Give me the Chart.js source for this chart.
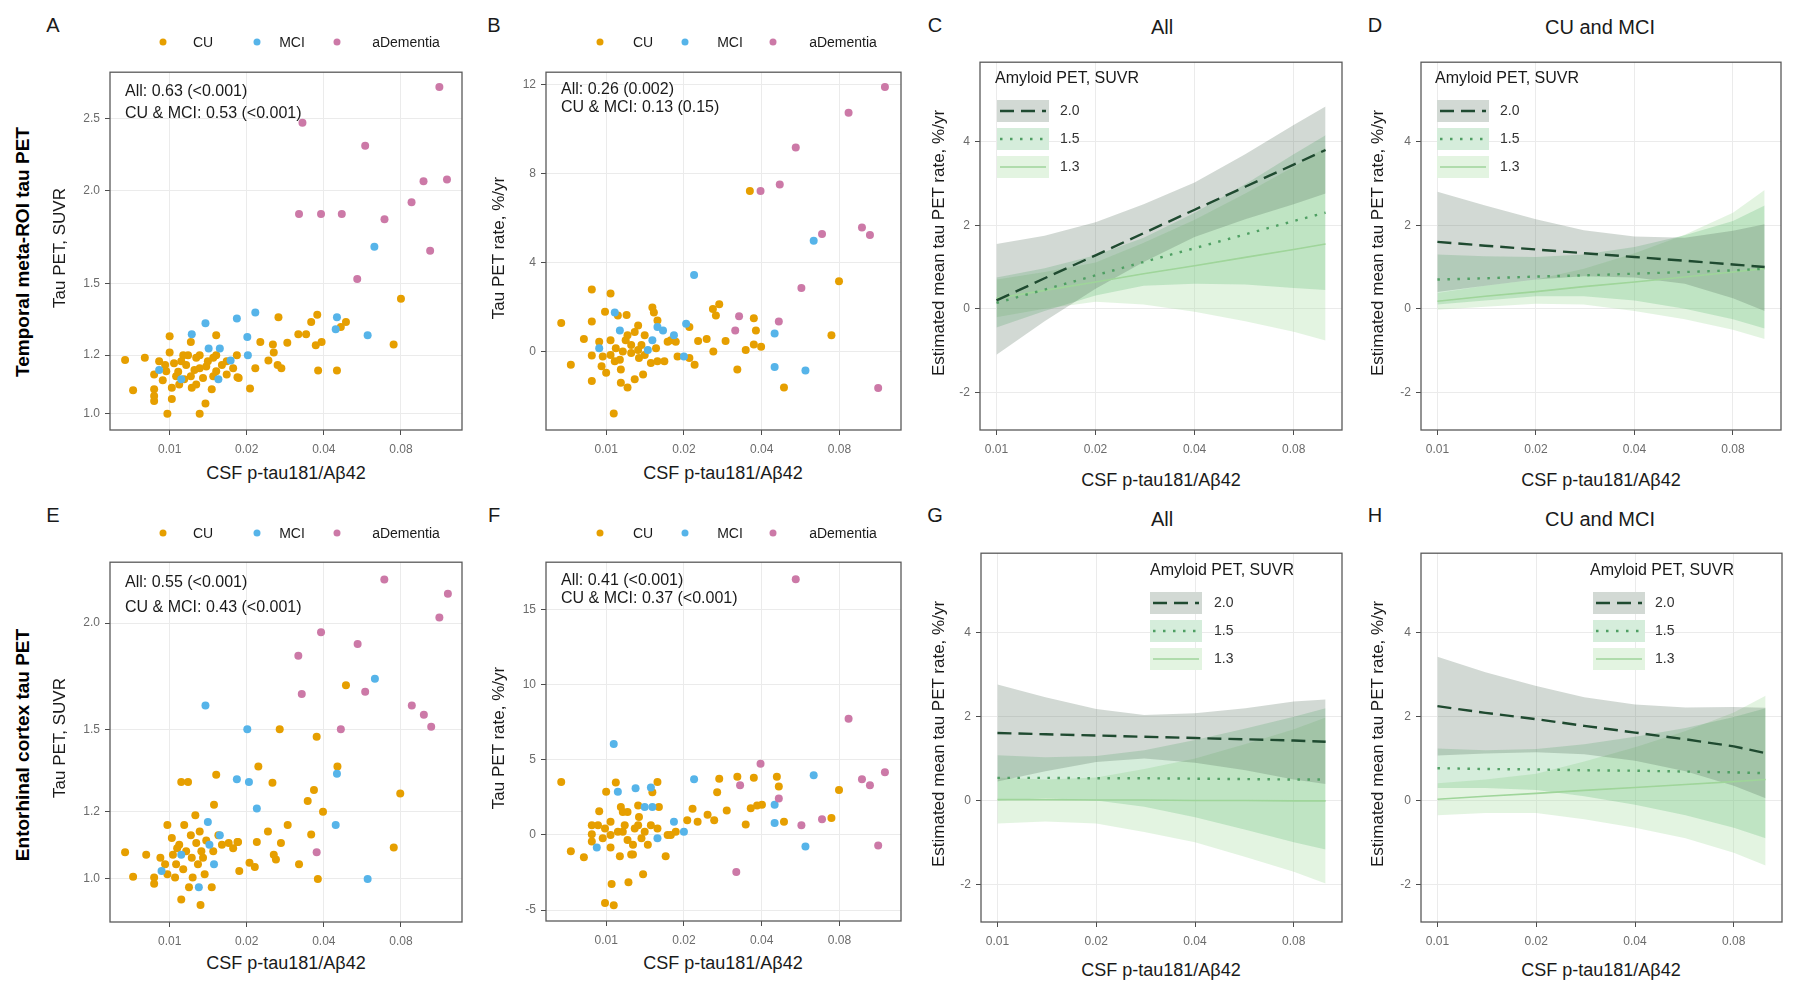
<!DOCTYPE html>
<html>
<head>
<meta charset="utf-8">
<script src="https://cdn.jsdelivr.net/npm/chart.js@4"></script>
<style>
  body { margin: 0; width: 1800px; height: 989px; position: relative; overflow: hidden; background: #fff;
         font-family: 'Liberation Sans', Arial, Helvetica, sans-serif; color: #1a1a1a; }
  canvas { position: absolute; }
  .t { position: absolute; white-space: nowrap; line-height: 1; }
  .dot { position: absolute; width: 7px; height: 7px; border-radius: 50%; transform: translate(-50%, -50%); }
</style>
</head>
<body>
<script>
// Tick values and labels
const scatterXTicks = [0.01, 0.02, 0.04, 0.08];
const scatterXLabels = ['0.01', '0.02', '0.04', '0.08'];
const suvrTicksA = [1.0, 1.2, 1.5, 2.0, 2.5];
const suvrLabelsA = ['1.0', '1.2', '1.5', '2.0', '2.5'];
const suvrTicksE = [1.0, 1.2, 1.5, 2.0];
const suvrLabelsE = ['1.0', '1.2', '1.5', '2.0'];
const rateTicksB = [0, 4, 8, 12];
const rateTicksF = [-5, 0, 5, 10, 15];
const bandYTicks = [-2, 0, 2, 4];

// Panel A: temporal meta-ROI SUVR  [p-tau181/Aβ42, SUVR]
const aCU = [[0.08,1.43],[0.0749,1.24],[0.0266,1.35],[0.0377,1.36],[0.0357,1.33],[0.0488,1.33],[0.0466,1.31],[0.0318,1.28],[0.0341,1.28],[0.0288,1.247],[0.0372,1.237],[0.0392,1.25],[0.0226,1.25],[0.0253,1.24],[0.0255,1.21],[0.0243,1.18],[0.0264,1.164],[0.0273,1.152],[0.0216,1.152],[0.038,1.144],[0.045,1.144],[0.0206,1.082],[0.0184,1.12],[0.0183,1.2],[0.0152,1.276],[0.0121,1.25],[0.01,1.273],[0.0067,1.182],[0.0072,1.076],[0.008,1.19],[0.0087,1.13],[0.0087,1.057],[0.0087,1.079],[0.0087,1.041],[0.0091,1.177],[0.0094,1.11],[0.0098,1.0],[0.0102,1.047],[0.01,1.21],[0.0104,1.17],[0.0108,1.14],[0.0113,1.2],[0.0116,1.164],[0.0121,1.124],[0.0122,1.084],[0.0127,1.19],[0.0131,1.152],[0.0131,1.0],[0.0135,1.118],[0.0138,1.033],[0.0141,1.177],[0.0146,1.079],[0.0152,1.141],[0.016,1.164],[0.0167,1.13],[0.0177,1.152],[0.0186,1.118],[0.0152,1.2],[0.0109,1.095],[0.0097,1.141],[0.0114,1.113],[0.0106,1.124],[0.0125,1.146],[0.0139,1.158],[0.0148,1.124],[0.0102,1.084],[0.0111,1.177],[0.0118,1.2],[0.0131,1.2],[0.0096,1.164],[0.0127,1.095],[0.0167,1.177],[0.0148,1.19]];
const aMCI = [[0.063,1.68],[0.0216,1.37],[0.0183,1.345],[0.0138,1.325],[0.045,1.35],[0.0445,1.30],[0.0593,1.276],[0.0201,1.27],[0.0122,1.28],[0.0142,1.225],[0.0202,1.2],[0.0157,1.225],[0.0091,1.146],[0.0111,1.113],[0.0155,1.113],[0.0173,1.18]];
const aAD = [[0.113,2.76],[0.033,2.47],[0.058,2.30],[0.098,2.06],[0.121,2.07],[0.088,1.93],[0.032,1.86],[0.039,1.86],[0.047,1.86],[0.069,1.83],[0.104,1.66],[0.054,1.52]];

// Panel B: temporal meta-ROI rate  [p-tau181/Aβ42, %/yr]
const bCU = [[0.036,7.22],[0.0797,3.16],[0.0745,0.73],[0.0274,2.13],[0.0259,1.91],[0.0266,1.62],[0.0373,1.5],[0.038,0.95],[0.029,0.47],[0.0245,0.56],[0.0227,0.47],[0.026,0.0],[0.0347,0.07],[0.0373,0.32],[0.0398,0.22],[0.0322,-0.81],[0.0488,-1.62],[0.022,-0.59],[0.021,-0.29],[0.0189,-0.22],[0.021,1.1],[0.0178,0.51],[0.0173,0.44],[0.0067,1.29],[0.0073,-0.59],[0.0082,0.56],[0.0088,2.79],[0.0088,1.35],[0.0088,-1.32],[0.0088,-0.18],[0.0094,0.44],[0.0096,-0.66],[0.01,-0.95],[0.0099,1.79],[0.0104,2.61],[0.0107,-2.79],[0.0104,0.51],[0.0104,-0.15],[0.0109,0.15],[0.0113,-0.37],[0.0111,1.62],[0.0114,-0.81],[0.0114,-1.4],[0.012,1.64],[0.0121,0.73],[0.0121,-1.62],[0.0125,0.29],[0.0125,-0.07],[0.0129,-1.25],[0.0129,0.88],[0.0133,1.17],[0.0134,-0.29],[0.0139,-1.03],[0.0137,0.29],[0.0141,0.73],[0.0151,1.98],[0.0153,1.76],[0.0158,1.4],[0.0158,-0.44],[0.0149,-0.51],[0.0168,-0.44],[0.0156,0.15],[0.0119,0.51],[0.0116,0.0],[0.0133,0.07],[0.0097,-0.22],[0.0186,0.44],[0.0141,-0.15],[0.0108,-0.44]];
const bMCI = [[0.0219,3.45],[0.0636,4.99],[0.0449,0.81],[0.0449,-0.7],[0.0591,-0.85],[0.0108,1.76],[0.0113,0.95],[0.0158,1.1],[0.0166,0.95],[0.0145,0.07],[0.0151,0.51],[0.0204,1.25],[0.0094,0.15],[0.0183,0.73],[0.02,-0.22]];
const bAD = [[0.12,11.9],[0.0868,10.75],[0.0542,9.18],[0.047,7.52],[0.0396,7.22],[0.0685,5.29],[0.0978,5.58],[0.105,5.24],[0.057,2.86],[0.0327,1.59],[0.0316,0.95],[0.0466,1.35],[0.113,-1.64]];

// Panel E: entorhinal SUVR
const eCU = [[0.0488,1.69],[0.0269,1.5],[0.0375,1.47],[0.0222,1.356],[0.0452,1.356],[0.0152,1.326],[0.0111,1.3],[0.0118,1.3],[0.0252,1.298],[0.0366,1.272],[0.0795,1.26],[0.0346,1.235],[0.0149,1.223],[0.0397,1.2],[0.0126,1.188],[0.0289,1.157],[0.0357,1.128],[0.0242,1.137],[0.0219,1.105],[0.0272,1.102],[0.0185,1.105],[0.075,1.089],[0.0255,1.068],[0.026,1.054],[0.032,1.041],[0.0187,1.022],[0.0205,1.045],[0.0215,1.033],[0.0379,1.0],[0.0067,1.075],[0.0072,1.006],[0.0081,1.068],[0.0087,1.004],[0.0087,0.987],[0.0092,1.059],[0.0098,1.157],[0.0098,1.013],[0.0102,1.117],[0.0103,1.068],[0.0106,1.041],[0.0109,1.097],[0.0111,0.946],[0.0113,1.027],[0.0116,1.078],[0.0121,1.126],[0.0122,1.059],[0.0123,1.004],[0.0127,1.102],[0.0129,1.041],[0.0132,0.932],[0.0133,1.078],[0.0137,1.013],[0.0139,1.11],[0.0146,0.978],[0.0148,1.078],[0.0155,1.126],[0.016,1.097],[0.017,1.102],[0.0177,1.087],[0.0184,1.105],[0.0114,1.157],[0.0107,1.087],[0.0131,1.137],[0.0105,1.004],[0.0119,0.978],[0.0096,1.041],[0.0135,1.059]];
const eMCI = [[0.0138,1.6],[0.0201,1.5],[0.0633,1.72],[0.0183,1.31],[0.0204,1.3],[0.045,1.33],[0.0219,1.21],[0.0445,1.157],[0.0593,1.0],[0.0141,1.167],[0.013,0.978],[0.0093,1.022],[0.0111,1.068],[0.0143,1.097],[0.0149,1.041],[0.0157,1.126]];
const eAD = [[0.0689,2.25],[0.122,2.165],[0.113,2.03],[0.039,1.95],[0.0542,1.89],[0.0318,1.83],[0.0328,1.65],[0.058,1.66],[0.0882,1.6],[0.0983,1.56],[0.105,1.51],[0.0466,1.5],[0.0375,1.075]];

// Panel F: entorhinal rate
const fCU = [[0.0067,3.52],[0.0073,-1.09],[0.0082,-1.48],[0.0088,0.65],[0.0088,0.04],[0.0088,-0.43],[0.0094,1.57],[0.01,2.87],[0.0099,-4.52],[0.0107,-4.67],[0.0105,-3.26],[0.0109,3.48],[0.0104,0.87],[0.0104,0.0],[0.0104,-0.83],[0.0111,0.22],[0.0113,-1.41],[0.0114,1.85],[0.0118,0.65],[0.0121,-0.33],[0.0122,-3.15],[0.0125,-1.3],[0.0127,-0.65],[0.0129,0.43],[0.0133,1.96],[0.0134,1.2],[0.0137,-0.22],[0.0127,-1.3],[0.0139,-2.61],[0.0141,0.22],[0.0149,0.65],[0.0151,2.83],[0.0158,3.52],[0.016,1.85],[0.017,-1.41],[0.0173,0.0],[0.0186,0.22],[0.0206,0.98],[0.0216,1.74],[0.0226,0.87],[0.0247,1.35],[0.0262,0.98],[0.0269,2.83],[0.0274,3.74],[0.0293,1.63],[0.0322,3.87],[0.0347,0.7],[0.0363,1.78],[0.0373,3.8],[0.0384,1.96],[0.0401,2.0],[0.0458,3.87],[0.0466,3.22],[0.0488,0.87],[0.0745,1.13],[0.0797,2.98],[0.0116,1.52],[0.0099,0.43],[0.0097,-0.22],[0.0145,-0.65],[0.0133,0.65],[0.0121,1.52],[0.0158,0.43],[0.0178,0.0],[0.0116,0.22],[0.0093,0.65]];
const fMCI = [[0.0107,6.04],[0.0219,3.7],[0.0636,3.96],[0.0449,2.0],[0.0449,0.8],[0.0591,-0.76],[0.0111,2.87],[0.013,3.11],[0.0149,3.15],[0.0151,1.85],[0.0141,1.85],[0.0183,0.87],[0.02,0.22],[0.0092,-0.83],[0.0158,-0.22]];
const fAD = [[0.0542,17.0],[0.0868,7.72],[0.0396,4.74],[0.12,4.17],[0.0978,3.7],[0.105,3.3],[0.033,3.3],[0.0466,2.43],[0.057,0.65],[0.0685,1.04],[0.113,-0.7],[0.0319,-2.46]];

// Model estimates (C, D, G, H): x grid, mean, lower, upper by amyloid level
const bandX = [0.01, 0.014, 0.02, 0.028, 0.04, 0.057, 0.08, 0.1];
const cM20 = [0.2, 0.73, 1.28, 1.81, 2.37, 2.92, 3.45, 3.8];
const cL20 = [-1.1, -0.3, 0.48, 1.12, 1.72, 2.14, 2.5, 2.76];
const cH20 = [1.55, 1.75, 2.07, 2.5, 3.02, 3.7, 4.4, 4.84];
const cM15 = [0.14, 0.46, 0.8, 1.12, 1.45, 1.78, 2.1, 2.3];
const cL15 = [-0.45, -0.05, 0.32, 0.55, 0.6, 0.58, 0.5, 0.45];
const cH15 = [0.75, 0.97, 1.28, 1.7, 2.3, 2.98, 3.7, 4.15];
const cM13 = [0.25, 0.44, 0.64, 0.84, 1.03, 1.23, 1.42, 1.55];
const cL13 = [-0.2, 0.0, 0.17, 0.1, -0.07, -0.3, -0.55, -0.76];
const cH13 = [0.7, 0.88, 1.11, 1.58, 2.13, 2.76, 3.4, 3.86];

const dM20 = [1.6, 1.51, 1.42, 1.33, 1.24, 1.15, 1.06, 1.0];
const dL20 = [0.4, 0.55, 0.7, 0.78, 0.75, 0.6, 0.25, -0.05];
const dH20 = [2.8, 2.47, 2.14, 1.88, 1.73, 1.7, 1.87, 2.02];
const dM15 = [0.7, 0.73, 0.77, 0.8, 0.84, 0.88, 0.92, 0.96];
const dL15 = [0.1, 0.2, 0.3, 0.3, 0.2, 0.0, -0.25, -0.47];
const dH15 = [1.3, 1.26, 1.24, 1.3, 1.48, 1.76, 2.1, 2.47];
const dM13 = [0.18, 0.3, 0.41, 0.53, 0.64, 0.76, 0.88, 0.96];
const dL13 = [-0.02, 0.05, 0.12, 0.1, -0.05, -0.25, -0.5, -0.72];
const dH13 = [0.38, 0.55, 0.7, 0.96, 1.33, 1.77, 2.3, 2.84];

const gM20 = [1.61, 1.58, 1.55, 1.52, 1.49, 1.46, 1.43, 1.4];
const gL20 = [0.45, 0.7, 0.92, 1.0, 0.9, 0.72, 0.5, 0.39];
const gH20 = [2.77, 2.46, 2.18, 2.04, 2.08, 2.2, 2.36, 2.41];
const gM15 = [0.54, 0.54, 0.53, 0.53, 0.52, 0.51, 0.5, 0.5];
const gL15 = [0.0, 0.05, 0.0, -0.15, -0.4, -0.7, -1.0, -1.17];
const gH15 = [1.08, 1.03, 1.06, 1.2, 1.44, 1.72, 2.0, 2.2];
const gM13 = [0.02, 0.02, 0.01, 0.01, 0.0, 0.0, -0.01, -0.01];
const gL13 = [-0.55, -0.5, -0.55, -0.75, -1.0, -1.35, -1.7, -1.98];
const gH13 = [0.55, 0.5, 0.55, 0.75, 1.0, 1.35, 1.7, 1.98];

const hM20 = [2.25, 2.09, 1.94, 1.78, 1.62, 1.46, 1.29, 1.13];
const hL20 = [1.07, 1.12, 1.15, 1.1, 0.95, 0.7, 0.35, 0.05];
const hH20 = [3.43, 3.06, 2.73, 2.46, 2.29, 2.22, 2.23, 2.21];
const hM15 = [0.77, 0.75, 0.74, 0.72, 0.71, 0.69, 0.67, 0.65];
const hL15 = [0.3, 0.3, 0.25, 0.1, -0.1, -0.35, -0.65, -0.9];
const hH15 = [1.24, 1.2, 1.23, 1.34, 1.52, 1.73, 1.99, 2.2];
const hM13 = [0.03, 0.1, 0.17, 0.24, 0.31, 0.38, 0.45, 0.5];
const hL13 = [-0.35, -0.3, -0.3, -0.45, -0.65, -0.9, -1.25, -1.55];
const hH13 = [0.41, 0.5, 0.64, 0.93, 1.27, 1.66, 2.1, 2.5];

const levelLabels = ['2.0', '1.5', '1.3'];

// Styles
const FONT = "'Liberation Sans', Arial, Helvetica, sans-serif";
const groupColors = { cu: '#E69F00', mci: '#56B4E9', ad: '#CC79A7' };
const levelLine = ['#1f4a30', '#4f9f63', '#9fd59a'];
const levelDash = [[14, 7], [2.5, 7.5], []];
const levelWidth = [2.4, 2.4, 1.6];
const levelFill = ['rgba(75,105,85,0.25)', 'rgba(65,171,93,0.22)', 'rgba(161,217,155,0.3)'];

Chart.defaults.font.family = FONT;
Chart.defaults.animation = false;

// Helpers
const addText = (txt, x, y, size, o = {}) => {
    const d = document.createElement('div');
    d.className = 't';
    d.textContent = txt;
    d.style.left = x + 'px';
    d.style.top = y + 'px';
    d.style.fontSize = size + 'px';
    if (o.bold) d.style.fontWeight = 'bold';
    if (o.color) d.style.color = o.color;
    d.style.transform = o.rot ? 'translate(-50%,-50%) rotate(-90deg)'
        : (o.left ? 'translate(0,-50%)' : 'translate(-50%,-50%)');
    document.body.appendChild(d);
};

const addDot = (x, y, color) => {
    const d = document.createElement('div');
    d.className = 'dot';
    d.style.left = x + 'px';
    d.style.top = y + 'px';
    d.style.background = color;
    document.body.appendChild(d);
};

// canvas sized so that the chart area lands exactly on the panel box
const makeCanvas = (box) => {
    const c = document.createElement('canvas');
    const w = box.r - box.l + 55;
    const h = box.b - box.t + 35;
    c.width = w; c.height = h;
    c.style.width = w + 'px'; c.style.height = h + 'px';
    c.style.left = (box.l - 50) + 'px';
    c.style.top = (box.t - 5) + 'px';
    document.body.appendChild(c);
    return c;
};

const axis = (type, min, max, ticks, labels, isX) => ({
    type, min, max, bounds: 'data',
    position: isX ? 'bottom' : 'left',
    afterBuildTicks: s => { s.ticks = ticks.map(v => ({ value: v })); },
    afterFit: s => { if (isX) s.height = 30; else s.width = 50; },
    ticks: {
        autoSkip: false, maxRotation: 0, minRotation: 0,
        padding: isX ? 7 : 5, color: '#6b6b6b',
        font: { size: 12, family: FONT },
        callback: (v, i) => labels[i]
    },
    grid: { color: '#ebebeb', lineWidth: 1, tickLength: 5, tickColor: '#4d4d4d', drawTicks: true },
    border: { display: false }
});

const boxPlugin = {
    id: 'panelBox',
    afterDraw(chart) {
        const { ctx, chartArea: a } = chart;
        ctx.save();
        ctx.strokeStyle = '#5a5a5a';
        ctx.lineWidth = 1.3;
        ctx.strokeRect(a.left, a.top, a.right - a.left, a.bottom - a.top);
        ctx.restore();
    }
};

const baseOptions = () => ({
    responsive: false,
    animation: false,
    layout: { padding: { left: 0, top: 5, right: 5, bottom: 0 }, autoPadding: false },
    plugins: { legend: { display: false }, tooltip: { enabled: false } },
    events: []
});

const toPoints = (pairs) => pairs.map(p => ({ x: p[0], y: p[1] }));

const scatterPanel = (box, yType, yMin, yMax, yTicks, yLabels, cu, mci, ad) => {
    const canvas = makeCanvas(box);
    const opts = baseOptions();
    opts.scales = {
        x: axis('logarithmic', 0.00585, 0.1385, scatterXTicks, scatterXLabels, true),
        y: axis(yType, yMin, yMax, yTicks, yLabels, false)
    };
    const ds = (data, color, order) => ({
        data: toPoints(data), order,
        backgroundColor: color, borderWidth: 0,
        pointRadius: 4, pointHoverRadius: 4
    });
    new Chart(canvas, {
        type: 'scatter',
        data: { datasets: [ds(ad, groupColors.ad, 0), ds(mci, groupColors.mci, 1), ds(cu, groupColors.cu, 2)] },
        options: opts,
        plugins: [boxPlugin]
    });
};

const bandPanel = (box, means, lows, highs, lg) => {
    const canvas = makeCanvas(box);
    const ox = box.l - 50, oy = box.t - 5;
    const opts = baseOptions();
    opts.scales = {
        x: axis('logarithmic', 0.00891, 0.1122, scatterXTicks, scatterXLabels, true),
        y: axis('linear', -2.9, 5.9, bandYTicks, bandYTicks.map(String), false)
    };
    const datasets = [];
    means.forEach((m, i) => datasets.push({
        data: bandX.map((x, k) => ({ x, y: m[k] })),
        borderColor: levelLine[i], borderWidth: levelWidth[i], borderDash: levelDash[i],
        pointRadius: 0, fill: false, tension: 0
    }));
    means.forEach((m, i) => {
        datasets.push({
            data: bandX.map((x, k) => ({ x, y: highs[i][k] })),
            borderWidth: 0, pointRadius: 0, backgroundColor: levelFill[i], fill: '+1', tension: 0
        });
        datasets.push({
            data: bandX.map((x, k) => ({ x, y: lows[i][k] })),
            borderWidth: 0, pointRadius: 0, fill: false, tension: 0
        });
    });

    // legend inside the panel: "Amyloid PET, SUVR"
    const legendPlugin = {
        id: 'amyloidLegend',
        afterDraw(chart) {
            const ctx = chart.ctx;
            ctx.save();
            ctx.textBaseline = 'middle';
            ctx.fillStyle = '#1a1a1a';
            ctx.font = '16px ' + FONT;
            ctx.fillText('Amyloid PET, SUVR', lg.tx - ox, lg.ty - oy);
            lg.rows.forEach((ry, i) => {
                const kx = lg.kx - ox, y = ry - oy;
                ctx.fillStyle = '#ffffff';
                ctx.fillRect(kx, y - 11, 52, 22);
                ctx.fillStyle = levelFill[i];
                ctx.fillRect(kx, y - 11, 52, 22);
                ctx.beginPath();
                ctx.strokeStyle = levelLine[i];
                ctx.lineWidth = levelWidth[i];
                ctx.setLineDash(levelDash[i]);
                ctx.moveTo(kx + 3, y);
                ctx.lineTo(kx + 49, y);
                ctx.stroke();
                ctx.setLineDash([]);
                ctx.fillStyle = '#333';
                ctx.font = '14px ' + FONT;
                ctx.fillText(levelLabels[i], lg.lx - ox, y);
            });
            ctx.restore();
        }
    };

    new Chart(canvas, {
        type: 'line',
        data: { datasets },
        options: opts,
        plugins: [boxPlugin, legendPlugin]
    });
};

// Panel boxes (page pixels)
const boxA = { l: 110, r: 462, t: 65, b: 430 };
const boxB = { l: 546, r: 901, t: 65, b: 430 };
const boxC = { l: 980, r: 1342, t: 55, b: 430 };
const boxD = { l: 1421, r: 1781, t: 55, b: 430 };
const boxE = { l: 110, r: 462, t: 555, b: 922 };
const boxF = { l: 546, r: 901, t: 555, b: 921 };
const boxG = { l: 981, r: 1342, t: 546, b: 922 };
const boxH = { l: 1421, r: 1782, t: 546, b: 922 };

scatterPanel(boxA, 'logarithmic', 0.951, 2.89, suvrTicksA, suvrLabelsA, aCU, aMCI, aAD);
scatterPanel(boxB, 'linear', -3.53, 12.57, rateTicksB, rateTicksB.map(String), bCU, bMCI, bAD);
scatterPanel(boxE, 'logarithmic', 0.89, 2.358, suvrTicksE, suvrLabelsE, eCU, eMCI, eAD);
scatterPanel(boxF, 'linear', -5.72, 18.13, rateTicksF, rateTicksF.map(String), fCU, fMCI, fAD);

bandPanel(boxC, [cM20, cM15, cM13], [cL20, cL15, cL13], [cH20, cH15, cH13],
    { tx: 995, ty: 79, kx: 997, lx: 1060, rows: [111, 139, 167] });
bandPanel(boxD, [dM20, dM15, dM13], [dL20, dL15, dL13], [dH20, dH15, dH13],
    { tx: 1435, ty: 79, kx: 1437, lx: 1500, rows: [111, 139, 167] });
bandPanel(boxG, [gM20, gM15, gM13], [gL20, gL15, gL13], [gH20, gH15, gH13],
    { tx: 1150, ty: 571, kx: 1150, lx: 1214, rows: [603, 631, 659] });
bandPanel(boxH, [hM20, hM15, hM13], [hL20, hL15, hL13], [hH20, hH15, hH13],
    { tx: 1590, ty: 571, kx: 1593, lx: 1655, rows: [603, 631, 659] });

// Text: panel letters, row labels, titles, axis titles
[['A', 53, 25], ['B', 494, 25], ['C', 935, 25], ['D', 1375, 25],
 ['E', 53, 515], ['F', 494, 515], ['G', 935, 515], ['H', 1375, 515]]
    .forEach(([s, x, y]) => addText(s, x, y, 20));

addText('Temporal meta-ROI tau PET', 22, 252, 19, { rot: true, bold: true, color: '#000' });
addText('Entorhinal cortex tau PET', 22, 745, 19, { rot: true, bold: true, color: '#000' });

addText('All', 1162, 27, 20);
addText('CU and MCI', 1600, 27, 20);
addText('All', 1162, 519, 20);
addText('CU and MCI', 1600, 519, 20);

addText('Tau PET, SUVR', 59, 248, 17, { rot: true });
addText('Tau PET rate, %/yr', 498, 248, 17, { rot: true });
addText('Estimated mean tau PET rate, %/yr', 938, 243, 17, { rot: true });
addText('Estimated mean tau PET rate, %/yr', 1377, 243, 17, { rot: true });
addText('Tau PET, SUVR', 59, 738, 17, { rot: true });
addText('Tau PET rate, %/yr', 498, 738, 17, { rot: true });
addText('Estimated mean tau PET rate, %/yr', 938, 734, 17, { rot: true });
addText('Estimated mean tau PET rate, %/yr', 1377, 734, 17, { rot: true });

addText('CSF  p-tau181/A\u03b242', 286, 473, 18);
addText('CSF  p-tau181/A\u03b242', 723, 473, 18);
addText('CSF p-tau181/A\u03b242', 1161, 480, 18);
addText('CSF p-tau181/A\u03b242', 1601, 480, 18);
addText('CSF  p-tau181/A\u03b242', 286, 963, 18);
addText('CSF  p-tau181/A\u03b242', 723, 963, 18);
addText('CSF p-tau181/A\u03b242', 1161, 970, 18);
addText('CSF p-tau181/A\u03b242', 1601, 970, 18);

// correlation annotations
addText('All: 0.63 (<0.001)', 125, 91, 16, { left: true });
addText('CU & MCI: 0.53 (<0.001)', 125, 113, 16, { left: true });
addText('All: 0.26 (0.002)', 561, 89, 16, { left: true });
addText('CU & MCI: 0.13 (0.15)', 561, 107, 16, { left: true });
addText('All: 0.55 (<0.001)', 125, 582, 16, { left: true });
addText('CU & MCI: 0.43 (<0.001)', 125, 607, 16, { left: true });
addText('All: 0.41 (<0.001)', 561, 580, 16, { left: true });
addText('CU & MCI: 0.37 (<0.001)', 561, 598, 16, { left: true });

// group legends above scatter panels
const groupLegend = (y, dots, labels) => {
    const cols = [groupColors.cu, groupColors.mci, groupColors.ad];
    const names = ['CU', 'MCI', 'aDementia'];
    dots.forEach((x, i) => addDot(x, y, cols[i]));
    labels.forEach((x, i) => addText(names[i], x, y, 14));
};
groupLegend(42, [163, 257, 337], [203, 292, 406]);
groupLegend(42, [600, 685, 773], [643, 730, 843]);
groupLegend(533, [163, 257, 337], [203, 292, 406]);
groupLegend(533, [600, 685, 773], [643, 730, 843]);
</script>
</body>
</html>
